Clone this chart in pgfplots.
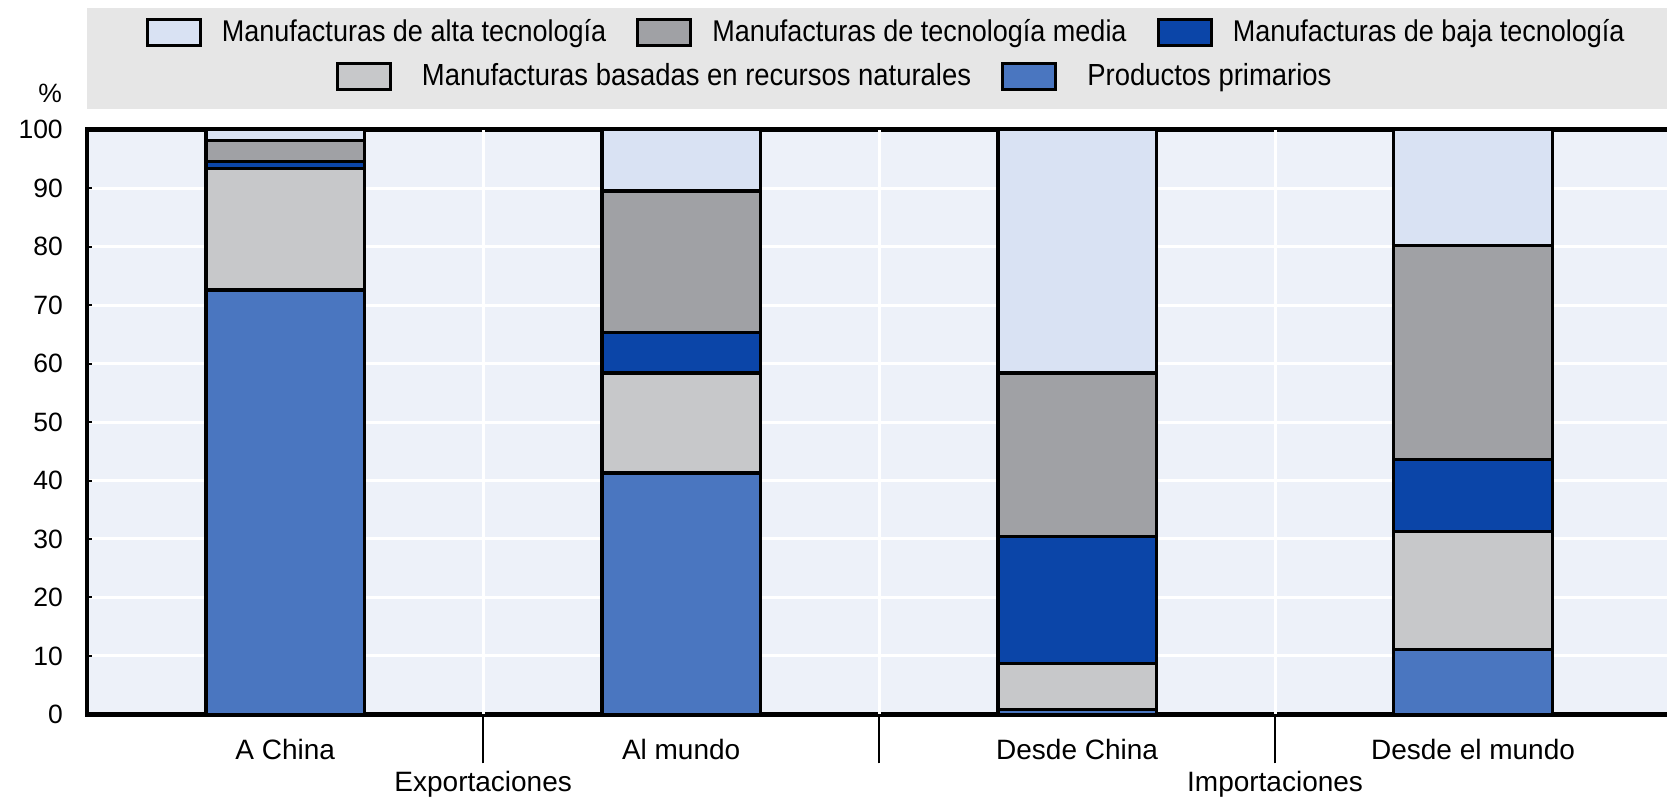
\documentclass[border=0pt]{standalone}
\usepackage{fontspec}
\setmainfont{Liberation Sans}
\newfontfamily\narrowfont{Liberation Sans}[FakeStretch=0.9]
\usepackage{pgfplots}
\pgfplotsset{compat=1.18}
\usepackage{pgfplotstable}
\definecolor{cPrim}{HTML}{4A76C0}
\definecolor{cNat}{HTML}{C7C8CA}
\definecolor{cBaja}{HTML}{0B45A8}
\definecolor{cMedia}{HTML}{A0A1A5}
\definecolor{cAlta}{HTML}{D9E2F3}
\definecolor{cAxBg}{HTML}{EDF1F9}
\definecolor{cLegBg}{HTML}{E6E6E6}
\pgfplotsset{mybox/.style={legend image code/.code={\draw[fill=#1, draw=black, line width=1.3pt] (0pt,-5.2pt) rectangle (21.2pt,5.2pt);}}}
\pgfplotstableread{
x prim nat baja media alta
0 72.6 20.8 1.2 3.6 1.8
1 41.3 17.1 6.9 24.2 10.5
2 0.8 7.9 21.7 28.0 41.6
3 11.1 20.2 12.3 36.6 19.8
}\datatable
\begin{document}
\begin{tikzpicture}
\path[use as bounding box] (-34.9pt,-34.2pt) rectangle (632pt,285.8pt);
\fill[cLegBg] (0pt,242.1pt) rectangle (640pt,282.5pt);
\node[font=\fontsize{10.6}{12}\selectfont] at (-14.8pt,248.5pt) {\%};
\begin{axis}[
 at={(0pt,0pt)}, anchor=south west,
 scale only axis, width=633.6pt, height=233.9pt,
 xmin=-0.5, xmax=3.5, ymin=0, ymax=100,
 clip=false,
 axis background/.style={fill=cAxBg},
 axis line style={black, line width=1.8pt},
 ybar stacked, bar width=0.4,
 xtick={0,1,2,3}, xticklabels={A China, Al mundo, Desde China, Desde el mundo},
 xtick pos=bottom,
 x tick label style={font=\fontsize{11.2}{13}\selectfont, anchor=base, inner sep=0pt, yshift=-18pt},
 x tick style={draw=none},
 extra x ticks={0.5,1.5,2.5}, extra x tick labels={},
 extra x tick style={grid=major, major grid style={white, line width=1.2pt}, tick align=outside, major tick length=19.6pt, x tick style={draw=black, line width=0.6pt}, xtick pos=bottom},
 ytick={0,10,...,100}, ymajorgrids, y grid style={white, line width=1.2pt},
 ytick pos=left, tick align=inside, major tick length=2pt, y tick style={black, line width=0.8pt},
 y tick label style={font=\fontsize{10.6}{12}\selectfont, inner sep=0pt, xshift=-9.6pt},
 /pgf/number format/assume math mode=true,
 legend entries={Manufacturas de alta tecnología, Manufacturas de tecnología media, Manufacturas de baja tecnología},
 legend columns=3, legend cell align=left,
 legend style={draw=none, fill=none, inner sep=0pt, at={(0,1)}, anchor=west, xshift=23.2pt, yshift=38.8pt,
   font=\narrowfont\fontsize{12}{14}\selectfont,
   /tikz/every odd column/.style={column sep=6pt},
   /tikz/every even column/.style={column sep=10pt}},
]
\addlegendimage{mybox=cAlta}
\addlegendimage{mybox=cMedia}
\addlegendimage{mybox=cBaja}
\addplot[fill=cPrim, draw=black, line width=1.3pt] table[x=x, y=prim]{\datatable};
\addplot[fill=cNat, draw=black, line width=1.3pt] table[x=x, y=nat]{\datatable};
\addplot[fill=cBaja, draw=black, line width=1.3pt] table[x=x, y=baja]{\datatable};
\addplot[fill=cMedia, draw=black, line width=1.3pt] table[x=x, y=media]{\datatable};
\addplot[fill=cAlta, draw=black, line width=1.3pt] table[x=x, y=alta]{\datatable};
\node[font=\fontsize{11.2}{13}\selectfont, anchor=base, yshift=-30.8pt] at (axis cs:0.5,0) {Exportaciones};
\node[font=\fontsize{11.2}{13}\selectfont, anchor=base, yshift=-30.8pt] at (axis cs:2.5,0) {Importaciones};
\end{axis}
\begin{axis}[
 at={(0pt,0pt)}, anchor=south west,
 scale only axis, width=633.6pt, height=233.9pt,
 hide axis, xmin=0, xmax=1, ymin=0, ymax=1,
 legend entries={Manufacturas basadas en recursos naturales, Productos primarios},
 legend columns=2, legend cell align=left,
 legend style={draw=none, fill=none, inner sep=0pt, at={(0,1)}, anchor=west, xshift=99.2pt, yshift=21.4pt,
   font=\narrowfont\fontsize{12.2}{14}\selectfont,
   /tikz/every odd column/.style={column sep=10pt},
   /tikz/every even column/.style={column sep=10pt}},
]
\addlegendimage{mybox=cNat}
\addlegendimage{mybox=cPrim}
\end{axis}
\end{tikzpicture}
\end{document}
